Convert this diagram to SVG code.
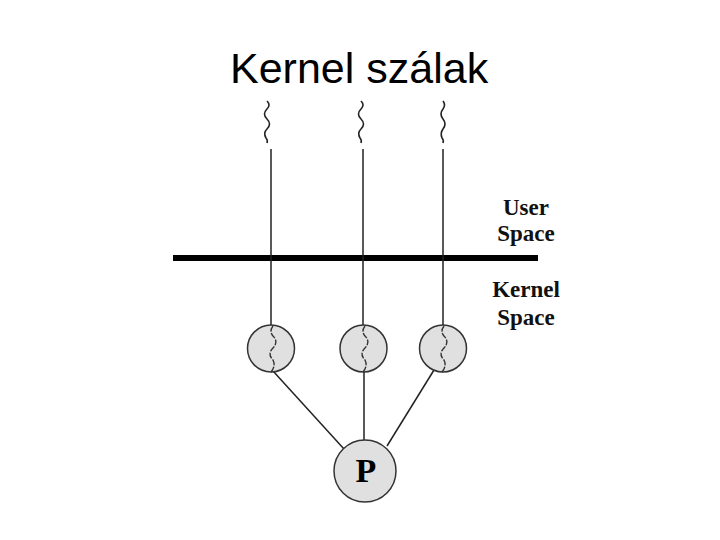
<svg xmlns="http://www.w3.org/2000/svg" width="720" height="540" viewBox="0 0 720 540">
<style>
.title{font-family:"Liberation Sans",Arial,sans-serif;font-size:43px;fill:#000}
.lbl{font-family:"Liberation Serif","Times New Roman",serif;font-size:23px;font-weight:bold;fill:#111;text-anchor:middle}
.ln{stroke:#222;stroke-width:1.5;fill:none}
.sq{stroke:#222;stroke-width:1.6;fill:none}
.thr{fill:#e0e0e0;stroke:#333;stroke-width:1.5}
.isq{stroke:#333;stroke-width:1.4;fill:none;stroke-dasharray:6 1.5}
</style>
<rect width="720" height="540" fill="#fff"/>
<text class="title" x="230" y="83">Kernel szálak</text>
<g id="user-threads">
<path class="sq" d="M267 101 q4 4 0 8 q-5 5 0 10 q5 5 0 10 q-4 4 -1 9 q2 2 1 5"/>
<path class="sq" d="M361 101 q4 4 0 8 q-5 5 0 10 q5 5 0 10 q-4 4 -1 9 q2 2 1 5"/>
<path class="sq" d="M443 101 q3 4 0 8 q-4 5 0 10 q4 5 0 10 q-3 4 -1 9 q2 2 1 5"/>
</g>
<g id="boundary">
<line x1="173" y1="258" x2="538" y2="258" stroke="#000" stroke-width="6"/>
</g>
<g id="labels">
<text class="lbl" x="526" y="215">User</text>
<text class="lbl" x="526" y="241">Space</text>
<text class="lbl" x="526" y="297">Kernel</text>
<text class="lbl" x="526" y="325">Space</text>
</g>
<g id="connectors">
<line class="ln" x1="271" y1="149" x2="271" y2="325"/>
<line class="ln" x1="363" y1="149" x2="363" y2="325"/>
<line class="ln" x1="443" y1="149" x2="443" y2="325"/>
<line class="ln" x1="273" y1="371" x2="344" y2="449"/>
<line class="ln" x1="364" y1="372" x2="364" y2="440"/>
<line class="ln" x1="434" y1="370" x2="387" y2="446"/>
</g>
<g id="kthread1">
<circle class="thr" cx="271" cy="348.5" r="23.5"/>
<path class="isq" d="M273 326 q-4 5 0 10 q6 6 0 12 q-6 6 0 12 q3 6 -2 12"/>
</g>
<g id="kthread2">
<circle class="thr" cx="363.5" cy="348.5" r="23.5"/>
<path class="isq" d="M365 326 q-4 5 0 10 q6 6 0 12 q-6 6 0 12 q3 6 -2 12"/>
</g>
<g id="kthread3">
<circle class="thr" cx="443" cy="348.5" r="23.5"/>
<path class="isq" d="M444 326 q-4 5 0 10 q6 6 0 12 q-6 6 0 12 q3 6 -2 12"/>
</g>
<g id="process">
<circle class="thr" cx="365" cy="471" r="31"/>
<text x="366" y="482" text-anchor="middle" font-family="Liberation Serif,serif" font-weight="bold" font-size="34" fill="#000">P</text>
</g>
</svg>
